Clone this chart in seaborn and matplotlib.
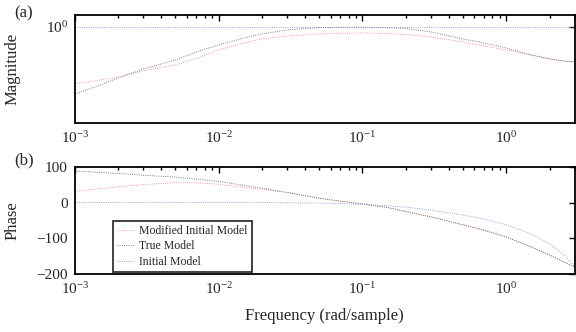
import numpy as np
import pandas as pd
import matplotlib
matplotlib.use("Agg")
import matplotlib.pyplot as plt
import matplotlib.ticker as mticker
import seaborn as sns

# ---- data ----
freq = [0.001, 0.0015, 0.002, 0.003, 0.005, 0.007, 0.01, 0.015, 0.02, 0.03,
        0.05, 0.07, 0.1, 0.15, 0.2, 0.3, 0.5, 0.7, 1.0, 1.5, 2.0, 2.5, 3.0]
models = ["Modified Initial Model", "True Model", "Initial Model"]

mag_modified = [0.555, 0.578, 0.596, 0.634, 0.675, 0.722, 0.787, 0.846, 0.881, 0.909,
                0.928, 0.934, 0.937, 0.932, 0.923, 0.900, 0.855, 0.820, 0.787, 0.747,
                0.718, 0.703, 0.696]
mag_true     = [0.500, 0.549, 0.590, 0.647, 0.710, 0.771, 0.829, 0.890, 0.928, 0.967,
                0.990, 0.994, 0.994, 0.989, 0.982, 0.947, 0.881, 0.846, 0.803, 0.747,
                0.718, 0.703, 0.696]
mag_initial  = [1.0] * 23

ph_modified = [31, 39, 44, 50, 55.5, 55, 51, 43, 37, 28,
               12, 4, -4, -14, -25, -40, -62, -77, -96, -124, -146, -165, -180]
ph_true     = [88, 84, 81, 76, 71, 65, 59, 48, 40, 28,
               12, 4, -4, -14, -25, -40, -62, -77, -96, -124, -146, -165, -180]
ph_initial  = [0, 0, 0, 0, 0, 0, 0, 0, 0, -0.5,
               -1.5, -3, -5, -9, -13, -21, -35, -46, -62, -88, -115, -145, -178]

mag_ticks = [1.0]
phase_ticks = [100, 0, -100, -200]
freq_ticks = [1e-3, 1e-2, 1e-1, 1e0]

rows = []
for name, mg, ph in zip(models,
                        [mag_modified, mag_true, mag_initial],
                        [ph_modified, ph_true, ph_initial]):
    for f, m, p in zip(freq, mg, ph):
        rows.append({"freq": f, "mag": m, "phase": p, "model": name})
df = pd.DataFrame(rows)

palette = {"Modified Initial Model": "#f07c7e",
           "True Model": "#555555",
           "Initial Model": "#7c84e0"}

sns.set_theme(style="white")
plt.rcParams["font.family"] = ["Liberation Serif", "DejaVu Serif"]
plt.rcParams["mathtext.fontset"] = "custom"
plt.rcParams["mathtext.rm"] = "Liberation Serif"
plt.rcParams["mathtext.it"] = "Liberation Serif:italic"
plt.rcParams["axes.unicode_minus"] = True

fig = plt.figure(figsize=(5.76, 3.32), dpi=100)
ax1 = fig.add_axes([0.130, 0.6295, 0.868, 0.324])
ax2 = fig.add_axes([0.130, 0.1738, 0.868, 0.3242])

lw = 0.6
sns.lineplot(data=df, x="freq", y="mag", hue="model", palette=palette,
             ax=ax1, linestyle=":", linewidth=lw, legend=False, sort=False)
sns.lineplot(data=df, x="freq", y="phase", hue="model", palette=palette,
             ax=ax2, linestyle=":", linewidth=lw, legend=False, sort=False)

for ax in (ax1, ax2):
    ax.set_xscale("log")
    ax.set_xlim(1e-3, 3.0)
    ax.set_xticks(freq_ticks)
    ax.xaxis.set_major_formatter(mticker.LogFormatterSciNotation())
    ax.xaxis.set_minor_locator(mticker.LogLocator(base=10, subs=np.arange(2, 10)))
    ax.xaxis.set_minor_formatter(mticker.NullFormatter())
    ax.tick_params(axis="both", which="both", direction="in", top=True, right=True,
                   labelsize=11, color="black", width=1.0)
    ax.tick_params(axis="both", which="major", length=4, pad=5)
    ax.tick_params(axis="both", which="minor", length=2.2)
    for s in ax.spines.values():
        s.set_visible(True)
        s.set_color("black")
        s.set_linewidth(1.3)
    ax.set_facecolor("white")
    ax.grid(False)

ax1.set_yscale("log")
ax1.set_ylim(10 ** -0.43, 10 ** 0.05)
ax1.set_yticks(mag_ticks)
ax1.yaxis.set_major_formatter(mticker.LogFormatterSciNotation())
ax1.yaxis.set_minor_locator(mticker.NullLocator())
ax1.set_xlabel("")
ax1.set_ylabel("Magnitude", fontsize=12)
ax1.yaxis.set_label_coords(-0.108, 0.5)

ax2.set_ylim(-200, 100)
ax2.set_yticks(phase_ticks)
ax2.set_xlabel("Frequency (rad/sample)", fontsize=12, labelpad=8)
ax2.set_ylabel("Phase", fontsize=12)
ax2.yaxis.set_label_coords(-0.108, 0.5)

handles = [plt.Line2D([], [], color=palette[m], linestyle=":", linewidth=lw) for m in models]
leg = ax2.legend(handles, models, loc="lower left", bbox_to_anchor=(0.076, 0.021),
                 borderaxespad=0, fontsize=8.5, frameon=True, fancybox=False,
                 handlelength=1.4, handletextpad=0.5, labelspacing=0.3,
                 borderpad=0.35)
leg.get_frame().set_edgecolor("black")
leg.get_frame().set_linewidth(1.3)

fig.text(0.025, 0.96, "(a)", fontsize=12, ha="left", va="center")
fig.text(0.025, 0.518, "(b)", fontsize=12, ha="left", va="center")

fig.savefig("out.png", dpi=100, facecolor="white")
